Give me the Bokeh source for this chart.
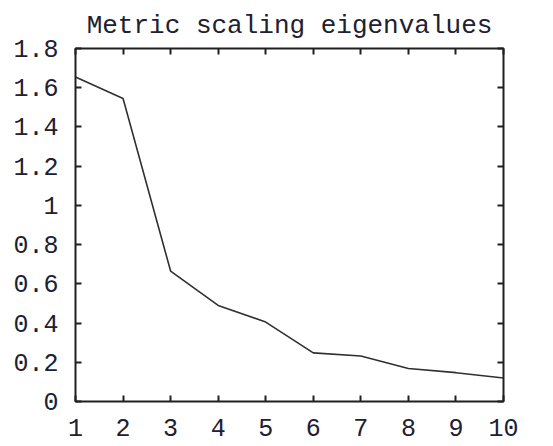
from bokeh.plotting import figure
from bokeh.models import LinearAxis, FixedTicker, Range1d
from bokeh.embed import file_html
from bokeh.resources import INLINE

# Data
components = [1, 2, 3, 4, 5, 6, 7, 8, 9, 10]
eigenvalues = [1.655, 1.545, 0.665, 0.49, 0.405, 0.248, 0.232, 0.168, 0.147, 0.12]

x_ticks = [1, 2, 3, 4, 5, 6, 7, 8, 9, 10]
y_ticks = [0, 0.2, 0.4, 0.6, 0.8, 1.0, 1.2, 1.4, 1.6, 1.8]
y_tick_labels = ["0", "0.2", "0.4", "0.6", "0.8", "1", "1.2", "1.4", "1.6", "1.8"]

FONT = "Liberation Mono"
TXT = "#202030"

p = figure(width=553, height=446, output_backend="svg", toolbar_location=None,
           x_range=Range1d(1, 10), y_range=Range1d(0, 1.8),
           min_border_left=75, min_border_right=50, min_border_top=48, min_border_bottom=45)

p.title.text = "Metric scaling eigenvalues"
p.title.align = "center"
p.title.text_font = FONT
p.title.text_font_size = "26px"
p.title.text_font_style = "normal"
p.title.text_color = TXT
p.title.offset = 0
p.title.standoff = 15

p.line(components, eigenvalues, line_color="#303030", line_width=1.6)

p.xgrid.visible = False
p.ygrid.visible = False
p.outline_line_color = "#202020"
p.outline_line_width = 2
p.outline_line_alpha = 1

def style(ax, labels=True):
    ax.axis_line_color = None
    ax.major_tick_in = 6
    ax.major_tick_out = 0
    ax.major_tick_line_width = 2
    ax.major_tick_line_color = "#202020"
    ax.minor_tick_line_color = None
    ax.major_label_text_font = FONT
    ax.major_label_text_font_size = "25px"
    ax.major_label_text_color = TXT
    ax.major_label_standoff = 12 if labels else 0

xa = p.xaxis[0]
xa.ticker = FixedTicker(ticks=x_ticks)
style(xa)
xa.major_label_standoff = 17

ya = p.yaxis[0]
ya.ticker = FixedTicker(ticks=y_ticks)
ya.major_label_overrides = dict(zip(y_ticks, y_tick_labels))
style(ya)
ya.major_label_standoff = 17

top = LinearAxis(ticker=FixedTicker(ticks=x_ticks))
style(top, labels=False)
top.major_label_overrides = {t: "" for t in x_ticks}
p.add_layout(top, "above")

right = LinearAxis(ticker=FixedTicker(ticks=y_ticks))
style(right, labels=False)
right.major_label_overrides = {t: "" for t in y_ticks}
p.add_layout(right, "right")

open("out.html", "w").write(file_html(p, INLINE))
